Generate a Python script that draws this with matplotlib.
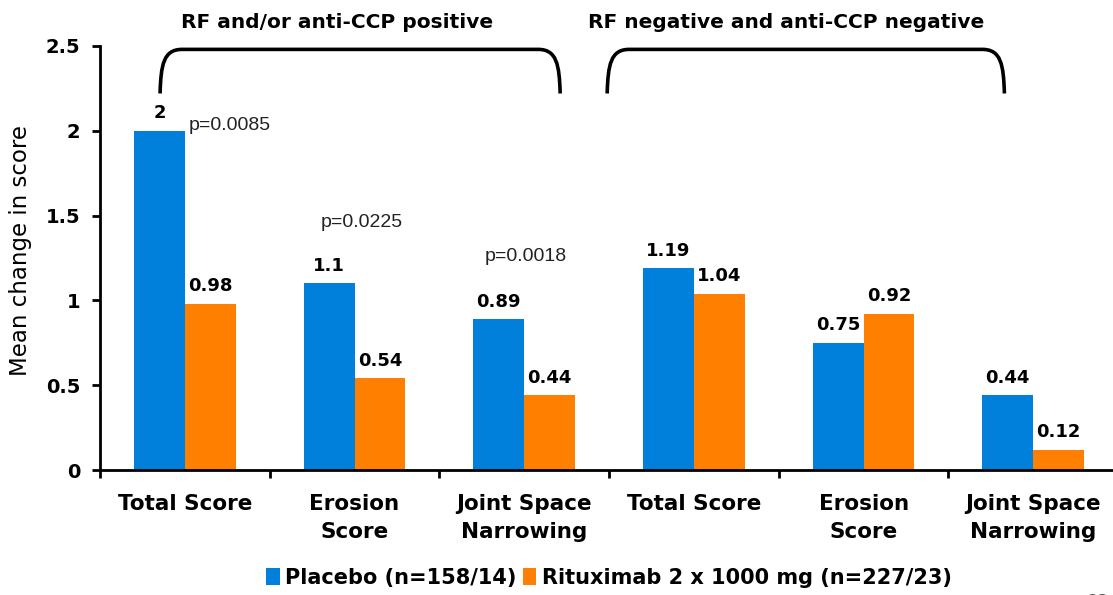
import matplotlib.pyplot as plt
from matplotlib.path import Path
from matplotlib.patches import PathPatch
import numpy as np

categories = ["Total Score", "Erosion\nScore", "Joint Space\nNarrowing",
              "Total Score", "Erosion\nScore", "Joint Space\nNarrowing"]
placebo = [2.0, 1.10, 0.89, 1.19, 0.75, 0.44]
rituximab = [0.98, 0.54, 0.44, 1.04, 0.92, 0.12]
placebo_labels = ["2", "1.1", "0.89", "1.19", "0.75", "0.44"]
rituximab_labels = ["0.98", "0.54", "0.44", "1.04", "0.92", "0.12"]
p_values = ["p=0.0085", "p=0.0225", "p=0.0018"]
group_titles = ["RF and/or anti-CCP positive", "RF negative and anti-CCP negative"]
legend_labels = ["Placebo (n=158/14)", "Rituximab 2 x 1000 mg (n=227/23)"]

blue = "#0080DA"
orange = "#FF8000"

fig = plt.figure(figsize=(11.13, 5.95), dpi=100)
ax = fig.add_axes([100 / 1113, 1 - 470 / 595, 1013 / 1113, 424 / 595])

x = np.arange(len(categories))
w = 0.3
ax.bar(x - w / 2, placebo, w, color=blue, label=legend_labels[0])
ax.bar(x + w / 2, rituximab, w, color=orange, label=legend_labels[1])

for i in range(len(x)):
    ax.text(x[i] - w / 2, placebo[i] + 0.05, placebo_labels[i], ha="center", va="bottom",
            fontsize=13, fontweight="bold", family="DejaVu Sans")
    ax.text(x[i] + w / 2, rituximab[i] + 0.05, rituximab_labels[i], ha="center", va="bottom",
            fontsize=13, fontweight="bold", family="DejaVu Sans")

# p-values
pkw = dict(va="center", fontsize=14, family="Liberation Sans", color="#222222")
ax.text(0.02, 2.03, p_values[0], ha="left", **pkw)
ax.text(1.04, 1.46, p_values[1], ha="center", **pkw)
ax.text(2.01, 1.26, p_values[2], ha="center", **pkw)


# brackets over the two groups
def bracket(x0, x1, ybot, ytop):
    r = 0.13
    verts = [(x0, ybot), (x0 + 0.005, ytop - 0.09), (x0 + 0.02, ytop), (x0 + r, ytop),
             (x1 - r, ytop), (x1 - 0.02, ytop), (x1 - 0.005, ytop - 0.09), (x1, ybot)]
    codes = [Path.MOVETO, Path.CURVE4, Path.CURVE4, Path.CURVE4,
             Path.LINETO, Path.CURVE4, Path.CURVE4, Path.CURVE4]
    ax.add_patch(PathPatch(Path(verts, codes), fill=False, lw=2.6, color="black",
                           clip_on=False, capstyle="butt"))


bracket(-0.146, 2.212, 2.22, 2.48)
bracket(2.489, 4.83, 2.22, 2.48)

tkw = dict(ha="center", va="center", fontsize=14.5, fontweight="bold", family="DejaVu Sans")
ax.text(0.897, 2.64, group_titles[0], **tkw)
ax.text(3.545, 2.64, group_titles[1], **tkw)

ax.set_xlim(-0.5, 5.47)
ax.set_ylim(0, 2.5)
ax.set_yticks([0, 0.5, 1, 1.5, 2, 2.5])
ax.set_yticklabels(["0", "0.5", "1", "1.5", "2", "2.5"], fontsize=14,
                   fontweight="bold", family="DejaVu Sans")
ax.set_xticks(np.arange(-0.5, 5.5, 1.0))
ax.set_xticklabels([])
ax.set_xticks(x, minor=True)
ax.set_xticklabels(categories, minor=True, fontsize=15.5, fontweight="bold",
                   family="DejaVu Sans", linespacing=1.55)
ax.tick_params(axis="x", which="minor", length=0, pad=17)
ax.tick_params(axis="x", which="major", direction="out", length=6, width=2)
ax.tick_params(axis="y", direction="out", length=6, width=2, pad=8)

for s in ["top", "right"]:
    ax.spines[s].set_visible(False)
ax.spines["left"].set_linewidth(2)
ax.spines["bottom"].set_linewidth(2)

ax.set_ylabel("Mean change in score", fontsize=16.5, family="DejaVu Sans")
ax.yaxis.set_label_coords(-68 / 1013, (470 - 250) / 424)

fig.legend(loc="center", bbox_to_anchor=(609 / 1113, 1 - 578 / 595), ncol=2, frameon=False,
           prop={"family": "DejaVu Sans", "weight": "bold", "size": 15},
           handlelength=0.65, handleheight=0.85, handletextpad=0.25, columnspacing=0.3)

fig.text(1088 / 1113, -0.012, "23", fontsize=12, color="#555555", va="center", ha="left")

fig.savefig("out.png", dpi=100)
